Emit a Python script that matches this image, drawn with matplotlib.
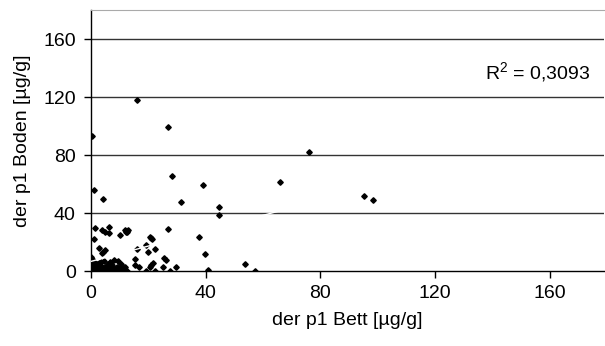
import numpy as np
import matplotlib
matplotlib.use("Agg")
import matplotlib.pyplot as plt

plt.rcParams['font.family'] = ['Liberation Sans', 'DejaVu Sans']
plt.rcParams['mathtext.fontset'] = 'custom'
plt.rcParams['mathtext.rm'] = 'Liberation Sans'
plt.rcParams['mathtext.it'] = 'Liberation Sans'

# der p1 Bett [µg/g]
bett = [
    0.3, 16.0, 26.8, 1.2, 4.2, 28.3, 39.0, 31.4, 44.6, 44.6, 65.8, 76.2, 95.1, 98.3,
    1.5, 1.2, 3.8, 4.9, 6.3, 6.3, 10.1, 11.8, 12.4, 13.0, 12.1, 26.7, 20.5, 21.3, 20.9,
    37.6, 2.8, 4.3, 4.9, 3.7, 16.1, 19.1, 19.9, 22.3, 15.4, 25.4, 26.1, 39.9,
    15.3, 16.8, 20.5, 21.1, 21.7, 25.2, 29.8, 27.6, 19.1, 22.3, 40.8, 53.9, 57.3,
    0.0, 0.5, 9.5, 12.4,
    0.2, 0.5, 0.8, 1.0, 1.3, 1.6, 2.0, 2.4, 2.8, 3.2, 3.6, 4.0, 4.5, 5.0, 5.5, 6.0,
    6.5, 7.0, 7.5, 8.0, 8.5, 9.0, 9.5, 10.0, 10.5, 11.0, 11.5, 12.0, 0.3, 0.7, 1.1,
    1.5, 2.0, 2.5, 3.0, 3.5, 4.2, 5.0, 5.8, 6.5, 7.2, 8.0, 8.8, 9.6, 10.4, 11.2,
    0.1, 0.4, 1.0, 1.8, 2.6, 3.4, 0.6, 1.4, 2.2, 3.0, 4.8, 5.6, 6.4, 7.5, 8.3,
]
# der p1 Boden [µg/g]
boden = [
    93.0, 118.0, 99.0, 56.0, 49.7, 65.7, 59.3, 47.4, 44.4, 38.9, 61.6, 82.3, 52.0, 48.7,
    29.9, 21.8, 28.3, 27.1, 26.4, 30.6, 24.6, 28.3, 27.1, 28.3, 26.7, 29.2, 23.7, 21.8, 22.5,
    23.2, 15.6, 13.3, 14.5, 12.2, 15.0, 17.9, 12.9, 15.0, 8.0, 9.0, 7.6, 11.7,
    4.1, 3.0, 3.0, 4.1, 5.3, 3.0, 2.8, 0.2, 0.0, 0.0, 0.7, 4.8, 0.0,
    10.0, 8.5, 7.1, 0.0,
    0.5, 1.5, 2.5, 0.8, 3.5, 1.2, 4.5, 2.0, 5.5, 1.0, 6.0, 2.5, 7.0, 3.0, 1.5, 5.0,
    6.5, 2.0, 4.0, 7.5, 1.0, 3.0, 0.5, 2.0, 4.5, 1.5, 0.8, 2.5, 5.0, 3.2, 6.0,
    0.2, 1.0, 0.3, 2.2, 0.6, 1.8, 0.4, 3.0, 0.9, 0.5, 1.6, 0.2, 1.2, 0.6, 0.3,
    2.8, 4.2, 3.8, 1.4, 0.1, 0.7, 1.9, 0.2, 0.9, 0.4, 0.3, 1.1, 0.5, 2.0, 0.8,
]
r2_text = "R$^2$ = 0,3093"
ticks = [0, 40, 80, 120, 160]

fig = plt.figure(figsize=(6.05, 3.46), dpi=100)
ax = fig.add_axes([91/605, 75/346, 513/605, 261/346])

x = np.array(bett)
y = np.array(boden)
for t in ticks[1:]:
    ax.axhline(t, color='#333333', lw=1.0, zorder=1)
ax.plot(x, y, 'D', color='black', ms=2.8, zorder=3)
k, d = np.polyfit(x, y, 1)
xs = np.array([x.min(), x.max()])
ax.plot(xs, k * xs + d, color='white', lw=1.0, zorder=4)

ax.set_xlim(0, 179)
ax.set_ylim(0, 180)
ax.set_xticks(ticks)
ax.set_yticks(ticks)
ax.tick_params(direction='out', length=5, width=1, labelsize=14)
ax.tick_params(axis='y', pad=6)
ax.tick_params(axis='x', pad=5)
for s in ['left', 'bottom']:
    ax.spines[s].set_color('black')
    ax.spines[s].set_linewidth(1.0)
ax.spines['top'].set_color('#aaaaaa')
ax.spines['right'].set_visible(False)
ax.set_xlabel('der p1 Bett [µg/g]', fontsize=14, labelpad=7)
ax.set_ylabel('der p1 Boden [µg/g]', fontsize=14, labelpad=9)
ax.text(156, 137, r2_text, fontsize=14, ha='center', va='center')

fig.savefig('out.png', dpi=100)
